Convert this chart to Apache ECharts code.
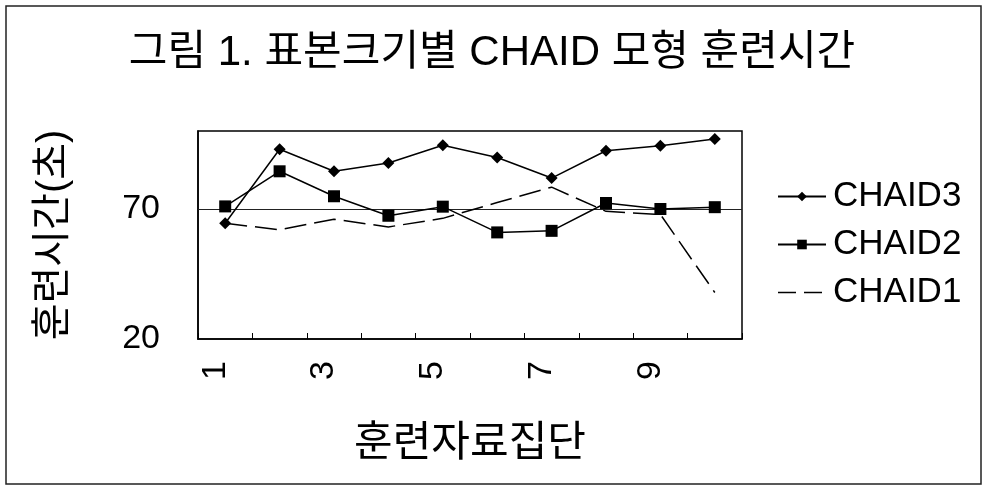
<!DOCTYPE html>
<html>
<head>
<meta charset="utf-8">
<script src="https://cdn.jsdelivr.net/npm/echarts@6/dist/echarts.min.js"></script>
<style>
  html, body { margin: 0; padding: 0; background: #fff; }
  #chart { width: 984px; height: 499px; }
</style>
</head>
<body>
<div id="chart"></div>
<script>
// Training groups 1..10
const categories = ['1', '2', '3', '4', '5', '6', '7', '8', '9', '10'];
// Training time (seconds) per CHAID model
const chaid3 = [64.5, 93.0, 84.5, 87.7, 94.5, 89.8, 81.9, 92.4, 94.3, 96.9];
const chaid2 = [71.0, 84.5, 74.9, 67.4, 70.9, 61.0, 61.6, 72.3, 70.0, 70.7];
const chaid1 = [64.5, 62.0, 66.1, 63.1, 66.4, 72.5, 78.4, 69.1, 67.9, 37.9];
const yLabels = [20, 70];
const refLine = 70;

const FONT = "'Liberation Sans', 'Noto Sans CJK KR', sans-serif";
const DASH = [22, 8];
const chart = echarts.init(document.getElementById('chart'), null, { renderer: 'canvas' });

chart.setOption({
  backgroundColor: '#fff',
  animation: false,
  title: {
    text: '그림 1. 표본크기별 CHAID 모형 훈련시간',
    left: 'center',
    top: 27,
    textStyle: { fontFamily: FONT, fontSize: 42, fontWeight: 'normal', color: '#000' }
  },
  graphic: [{
    type: 'rect',
    shape: { x: 6, y: 6, width: 975, height: 478 },
    style: { fill: 'none', stroke: '#222', lineWidth: 1.5 },
    silent: true
  }],
  legend: {
    orient: 'vertical',
    left: 772,
    top: 174,
    itemWidth: 48,
    itemHeight: 12,
    itemGap: 13,
    textStyle: { fontFamily: FONT, fontSize: 35, color: '#000', padding: [0, 0, 0, 2] },
    data: [
      { name: 'CHAID3' },
      { name: 'CHAID2' },
      { name: 'CHAID1', itemStyle: { opacity: 0 }, lineStyle: { type: [18, 8], width: 1.5, color: '#000' } }
    ]
  },
  grid: {
    left: 198, right: 242, top: 131, bottom: 160,
    show: true, borderColor: '#000', borderWidth: 1.5, backgroundColor: '#fff'
  },
  xAxis: {
    type: 'category',
    data: categories,
    boundaryGap: true,
    name: '훈련자료집단',
    nameLocation: 'middle',
    nameGap: 84,
    nameTextStyle: { fontFamily: FONT, fontSize: 42, color: '#000', verticalAlign: 'top' },
    axisLine: { lineStyle: { color: '#000', width: 1.5 } },
    axisTick: { show: true, inside: true, length: 6, alignWithLabel: false, interval: 0, lineStyle: { color: '#000' } },
    axisLabel: {
      interval: 1, rotate: 90, margin: 22,
      verticalAlign: 'bottom', lineHeight: 20,
      fontFamily: FONT, fontSize: 34, color: '#000'
    },
    splitLine: { show: false }
  },
  yAxis: {
    type: 'value',
    min: 20, max: 100, interval: 10,
    name: '훈련시간(초)',
    nameLocation: 'middle',
    nameGap: 124,
    nameTextStyle: { fontFamily: FONT, fontSize: 40, color: '#000' },
    axisLine: { show: true, lineStyle: { color: '#000', width: 1.5 } },
    axisTick: { show: false },
    axisLabel: {
      margin: 38, fontFamily: FONT, fontSize: 34, color: '#000',
      formatter: v => (yLabels.indexOf(v) >= 0 ? String(v) : '')
    },
    splitLine: { show: false }
  },
  series: [
    {
      name: 'CHAID3', type: 'line', data: chaid3,
      symbol: 'diamond', symbolSize: 12, showAllSymbol: true,
      lineStyle: { color: '#000', width: 1.5 },
      itemStyle: { color: '#000' },
      markLine: {
        silent: true, symbol: 'none', z: 1,
        label: { show: false },
        lineStyle: { color: '#222', width: 1, type: 'solid' },
        data: [{ yAxis: refLine }]
      }
    },
    {
      name: 'CHAID2', type: 'line', data: chaid2,
      symbol: 'rect', symbolSize: 12, showAllSymbol: true,
      lineStyle: { color: '#000', width: 1.5 },
      itemStyle: { color: '#000' }
    },
    {
      name: 'CHAID1', type: 'line', data: chaid1,
      symbol: 'none', showSymbol: false,
      lineStyle: { color: '#000', width: 1.5, type: DASH },
      itemStyle: { color: '#000' }
    }
  ]
});
</script>
</body>
</html>
